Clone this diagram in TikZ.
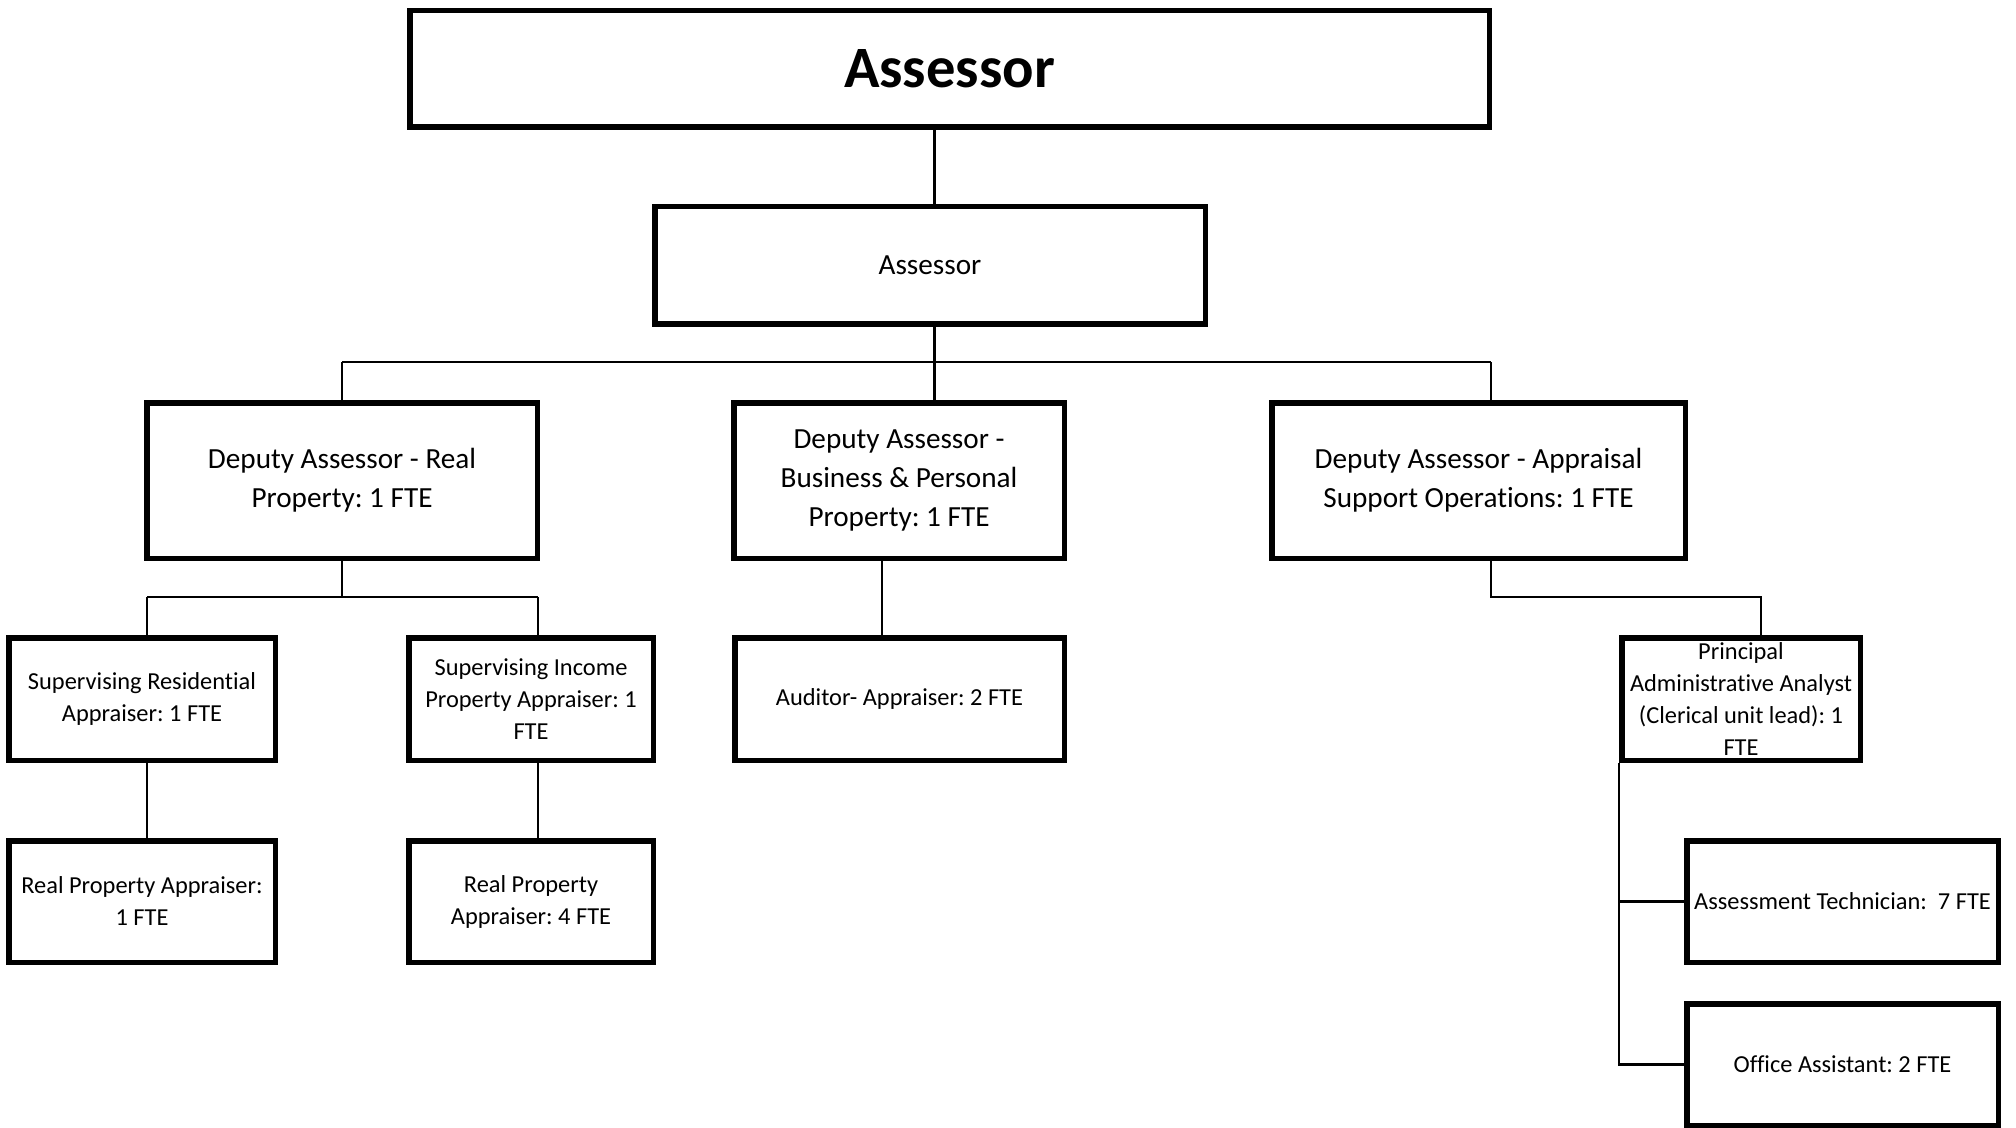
\documentclass[tikz,border=0pt]{standalone}
\usepackage{fontspec}
\setmainfont{Carlito}[Ligatures=NoCommon]
\frenchspacing
\begin{document}
\begin{tikzpicture}[x=0.5pt,y=-0.5pt,
  box/.style={draw=black, line width=2.75pt, fill=white, inner sep=0pt, align=center},
  big/.style={font=\fontsize{14.6}{19.3}\selectfont},
  small/.style={font=\fontsize{12.2}{16}\selectfont},
  link/.style={draw=black, line width=1.35pt}]
\useasboundingbox (0,0) rectangle (2016,1128);

% boxes
\node[box, minimum width=539.75pt, minimum height=58.25pt,
      font=\bfseries\fontsize{29.3}{34}\selectfont] (top) at (949.5,69) {Assessor};
\node[box, big, minimum width=275.25pt, minimum height=58.75pt] (asr) at (930,265.5) {Assessor};

\node[box, big, minimum width=195.25pt, minimum height=77.75pt] (d1) at (342,480.5)
  {Deputy Assessor - Real\\Property: 1 FTE};
\node[box, big, minimum width=165.25pt, minimum height=77.75pt] (d2) at (899,480.5)
  {Deputy Assessor -\\Business \& Personal\\Property: 1 FTE};
\node[box, big, minimum width=206.75pt, minimum height=77.75pt] (d3) at (1478.5,480.5)
  {Deputy Assessor - Appraisal\\Support Operations: 1 FTE};

\node[box, small, minimum width=133.25pt, minimum height=61.25pt] (s1) at (142,699)
  {Supervising Residential\\Appraiser: 1 FTE};
\node[box, small, minimum width=122.25pt, minimum height=61.25pt] (s2) at (531,699)
  {Supervising Income\\Property Appraiser: 1\\FTE};
\node[box, small, minimum width=164.75pt, minimum height=61.25pt] (aud) at (899.5,699)
  {Auditor- Appraiser: 2 FTE};
\node[box, small, minimum width=119.25pt, minimum height=61.25pt] (paa) at (1741,699)
  {Principal\\Administrative Analyst\\(Clerical unit lead): 1\\FTE};

\node[box, small, minimum width=133.25pt, minimum height=60.75pt] (r1) at (142,901.5)
  {Real Property Appraiser:\\1 FTE};
\node[box, small, minimum width=122.25pt, minimum height=60.75pt] (r2) at (531,901.5)
  {Real Property\\Appraiser: 4 FTE};
\node[box, small, minimum width=155.75pt, minimum height=60.75pt] (tech) at (1842.5,901.5)
  {Assessment Technician:\ \ 7 FTE};
\node[box, small, minimum width=155.75pt, minimum height=60.75pt] (off) at (1842.5,1064.5)
  {Office Assistant: 2 FTE};

% junction points of the connectors
\coordinate (j0) at (934.5,362);
\coordinate (b1) at (342,362);
\coordinate (b3) at (1491,362);
\coordinate (c1) at (342,597);
\coordinate (c1l) at (147,597);
\coordinate (c1r) at (538,597);
\coordinate (c2) at (882,597);
\coordinate (c3) at (1491,597);
\coordinate (c3r) at (1761,597);

% connectors
\draw[link] (top.south -| j0) -- (asr.north -| j0);
\draw[link] (asr.south -| j0) -- (j0);
\draw[link] (b1) -- (b3);
\draw[link] (b1) -- (d1.north -| b1);
\draw[link] (j0) -- (d2.north -| j0);
\draw[link] (b3) -- (d3.north -| b3);

\draw[link] (d1.south -| c1) -- (c1);
\draw[link] (c1l) -- (c1r);
\draw[link] (c1l) -- (s1.north -| c1l);
\draw[link] (c1r) -- (s2.north -| c1r);
\draw[link] (s1.south -| c1l) -- (r1.north -| c1l);
\draw[link] (s2.south -| c1r) -- (r2.north -| c1r);

\draw[link] (d2.south -| c2) -- (aud.north -| c2);

\draw[link] (d3.south -| c3) -- (c3) -- (c3r) -- (paa.north -| c3r);

\draw[link] (paa.south west) -- (paa.south west |- off.west) -- (off.west);
\draw[link] (paa.south west |- tech.west) -- (tech.west);
\end{tikzpicture}
\end{document}
